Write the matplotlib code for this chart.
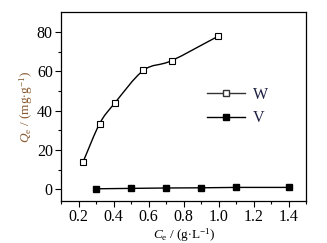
import numpy as np
import matplotlib.pyplot as plt
from matplotlib.path import Path
from matplotlib.patches import PathPatch
from matplotlib.lines import Line2D

plt.rcParams['font.family'] = ['Liberation Serif', 'DejaVu Serif']
plt.rcParams['mathtext.fontset'] = 'custom'
plt.rcParams['mathtext.rm'] = 'Liberation Serif'
plt.rcParams['mathtext.it'] = 'Liberation Serif:italic'

# data
w_x = [0.225, 0.32, 0.405, 0.57, 0.73, 0.995]
w_y = [13.9, 33.4, 43.7, 60.5, 65.4, 77.8]
v_x = [0.3, 0.5, 0.7, 0.9, 1.1, 1.4]
v_y = [0.2, 0.4, 0.6, 0.7, 0.9, 0.9]

fig = plt.figure(figsize=(3.27, 2.43), dpi=100)
ax = fig.add_axes([0.187, 0.173, 0.75, 0.776])

# smooth curve through W points (catmull-rom as bezier segments)
P = np.column_stack([w_x, w_y])
ext = np.vstack([2 * P[0] - P[1], P, 2 * P[-1] - P[-2]])
verts = [tuple(P[0])]
codes = [Path.MOVETO]
for i in range(1, len(ext) - 2):
    p0, p1, p2, p3 = ext[i - 1], ext[i], ext[i + 1], ext[i + 2]
    c1 = p1 + (p2 - p0) / 6
    c2 = p2 - (p3 - p1) / 6
    verts += [tuple(c1), tuple(c2), tuple(p2)]
    codes += [Path.CURVE4] * 3
ax.add_patch(PathPatch(Path(verts, codes), fill=False, lw=1.0, ec='black'))
ax.plot(w_x, w_y, ls='none', marker='s', ms=4.5, mfc='white', mec='black', mew=0.8)
ax.plot(v_x, v_y, '-', color='black', lw=1.0, marker='s', ms=4.5, mfc='black', mec='black')

ax.set_xlim(0.1, 1.5)
ax.set_ylim(-6, 90)
ax.set_xticks([0.2, 0.4, 0.6, 0.8, 1.0, 1.2, 1.4])
ax.set_xticks(np.arange(0.1, 1.51, 0.1), minor=True)
ax.set_yticks([0, 20, 40, 60, 80])
ax.set_yticks([10, 30, 50, 70], minor=True)
ax.tick_params(which='both', direction='out', top=False, right=False, labelsize=11.5, width=0.8, pad=2)
ax.tick_params(which='major', length=4)
ax.tick_params(which='minor', length=2)
for s in ax.spines.values():
    s.set_linewidth(0.9)

ax.set_xlabel(r'$C_\mathrm{e}$ / (g$\cdot$L$^{-1}$)', fontsize=9.5, labelpad=1)
ax.set_ylabel(r'$Q_\mathrm{e}$ / (mg$\cdot$g$^{-1}$)', fontsize=9.5, color='#8a5a30', labelpad=1)

handles = [Line2D([], [], color='#333333', lw=1.0, marker='s', ms=4.5, mfc='white', mec='#333333'),
           Line2D([], [], color='black', lw=1.0, marker='s', ms=4.5, mfc='black', mec='black')]
leg = ax.legend(handles, ['W', 'V'], frameon=False, loc='center left', bbox_to_anchor=(0.535, 0.50),
                fontsize=11.5, handlelength=2.4, labelspacing=0.45, handletextpad=0.5)
for t in leg.get_texts():
    t.set_color('#1c2040')

fig.savefig('out.png', dpi=100)
